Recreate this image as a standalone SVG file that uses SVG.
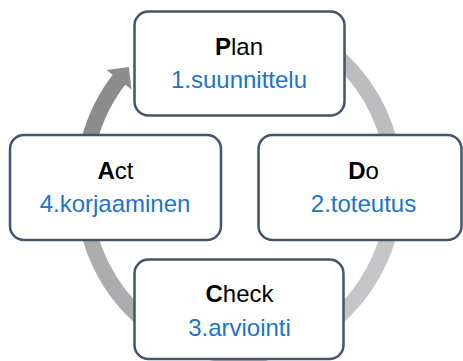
<svg xmlns="http://www.w3.org/2000/svg" width="463" height="361" viewBox="0 0 463 361">
  <style>
    .box { fill: #ffffff; stroke: #44546a; stroke-width: 2.5; }
    .title { font-family: "Liberation Sans", Arial, sans-serif; font-size: 24px; fill: #000000; text-anchor: middle; }
    .sub { font-family: "Liberation Sans", Arial, sans-serif; font-size: 24px; fill: #1b75c8; text-anchor: middle; }
    .ring { fill: none; stroke-width: 16; stroke-linecap: butt; }
  </style>

  <!-- cycle ring: elliptical arcs around centre (239,187), rx 156, ry 168 -->
  <g id="connectors">
    <path class="ring" stroke="#bdbdc0" d="M 211.9 21.6 A 156 168 0 0 1 392.6 157.8"/>
    <path class="ring" stroke="#c6c6c8" d="M 392.6 216.2 A 156 168 0 0 1 225.4 354.4"/>
    <path class="ring" stroke="#acacaf" d="M 266.1 352.4 A 156 168 0 0 1 83.6 201.6"/>
    <path class="ring" stroke="#8c8c8c" d="M 85.4 216.2 A 156 168 0 0 1 121.3 76.8"/>
    <polygon fill="#8c8c8c" points="106.5,70.1 128.8,67.0 131.5,89.4"/>
  </g>

  <g id="node-plan">
    <rect class="box" x="134.5" y="11.5" width="210" height="104" rx="14"/>
    <text class="title" x="239" y="54.5"><tspan font-weight="bold">P</tspan>lan</text>
    <text class="sub" x="239" y="87.5">1.suunnittelu</text>
  </g>

  <g id="node-do">
    <rect class="box" x="258.5" y="135" width="203" height="105" rx="14"/>
    <text class="title" x="363.5" y="178.5"><tspan font-weight="bold">D</tspan>o</text>
    <text class="sub" x="363.5" y="211.5">2.toteutus</text>
  </g>

  <g id="node-check">
    <rect class="box" x="134.5" y="259.5" width="209" height="99.5" rx="14"/>
    <text class="title" x="239.5" y="301.5"><tspan font-weight="bold">C</tspan>heck</text>
    <text class="sub" x="239.5" y="336">3.arviointi</text>
  </g>

  <g id="node-act">
    <rect class="box" x="10" y="135" width="211" height="105" rx="14"/>
    <text class="title" x="115.5" y="178.5"><tspan font-weight="bold">A</tspan>ct</text>
    <text class="sub" x="115" y="211.5">4.korjaaminen</text>
  </g>
</svg>
